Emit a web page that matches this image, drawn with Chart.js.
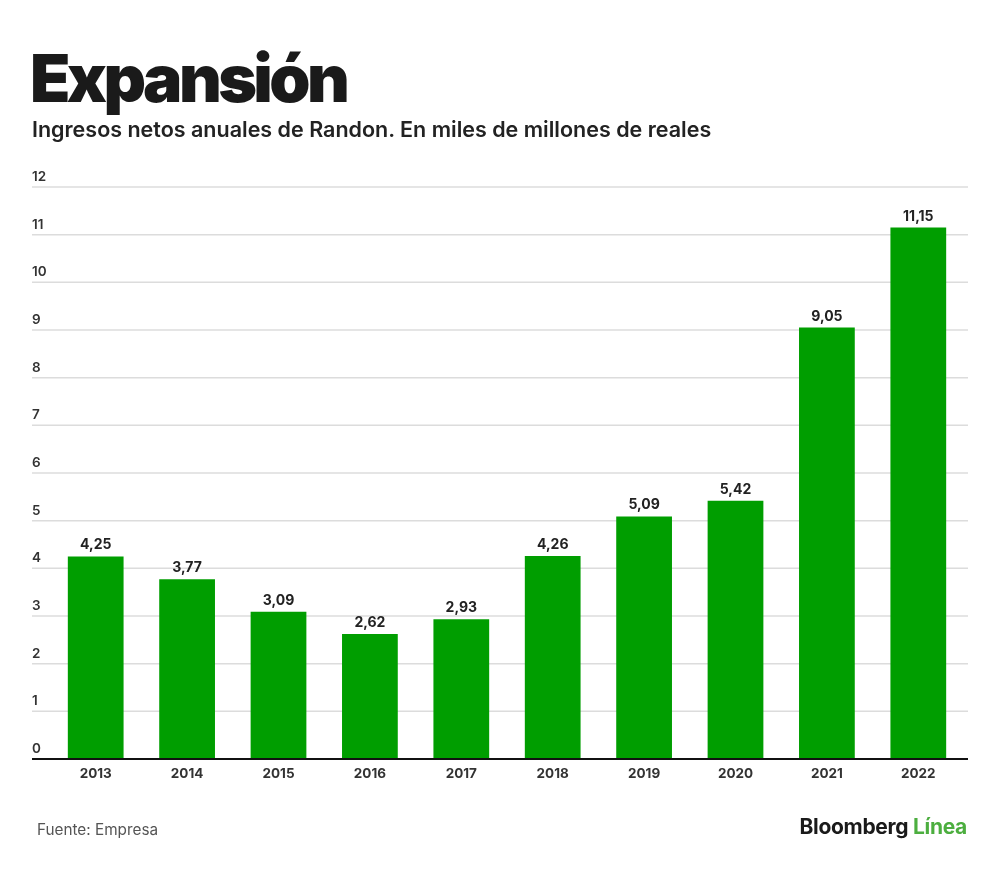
<!DOCTYPE html>
<html>
<head>
<meta charset="utf-8">
<script src="https://cdn.jsdelivr.net/npm/chart.js@4.4.0/dist/chart.umd.min.js"></script>
<style>
  html, body { margin: 0; padding: 0; background: #fff; }
  body { width: 1000px; height: 872px; position: relative; overflow: hidden; font-family: Inter, "Noto Sans", sans-serif; }
  #title { position: absolute; left: 30px; top: 38px; font-size: 66px; font-weight: 900; color: #1a1a1a; letter-spacing: -3.6px; line-height: 80px; margin: 0; }
  #subtitle { position: absolute; left: 32px; top: 115px; font-size: 21.5px; font-weight: 600; color: #222; letter-spacing: 0px; line-height: 28px; margin: 0; }
  #source { position: absolute; left: 37px; top: 820px; font-size: 15.3px; font-weight: 400; color: #555; line-height: 20px; }
  #brand { position: absolute; right: 33px; top: 814px; font-size: 21px; font-weight: 700; color: #1a1a1a; line-height: 26px; letter-spacing: -0.3px; }
  #brand span { color: #4cae3f; }
  #wrap { position: absolute; left: 0; top: 0; width: 1000px; height: 872px; }
</style>
</head>
<body>
<div id="wrap"><canvas id="c" width="1000" height="872"></canvas></div>
<h1 id="title">Expansión</h1>
<p id="subtitle">Ingresos netos anuales de Randon. En miles de millones de reales</p>
<div id="source">Fuente: Empresa</div>
<div id="brand">Bloomberg <span>Línea</span></div>
<script>
const years = ["2013","2014","2015","2016","2017","2018","2019","2020","2021","2022"];
const revenue = [4.25, 3.77, 3.09, 2.62, 2.93, 4.26, 5.09, 5.42, 9.05, 11.15];
const yTicks = [0,1,2,3,4,5,6,7,8,9,10,11,12];

const fmt = v => v.toFixed(2).replace('.', ',');

const gridPlugin = {
  id: 'customGrid',
  beforeDatasetsDraw(chart) {
    const ctx = chart.ctx, y = chart.scales.y;
    ctx.save();
    ctx.strokeStyle = '#dcdcdc';
    ctx.lineWidth = 1.5;
    ctx.font = '600 13.5px Inter, "Noto Sans", sans-serif';
    ctx.fillStyle = '#333';
    ctx.textAlign = 'left';
    ctx.textBaseline = 'middle';
    yTicks.forEach(t => {
      const py = y.getPixelForValue(t);
      if (t !== 0) {
        ctx.beginPath(); ctx.moveTo(32, py); ctx.lineTo(968, py); ctx.stroke();
      }
      ctx.fillText(String(t), 32, py - 10);
    });
    ctx.restore();
  },
  afterDatasetsDraw(chart) {
    const ctx = chart.ctx, y = chart.scales.y;
    ctx.save();
    const py = y.getPixelForValue(0);
    ctx.strokeStyle = '#111';
    ctx.lineWidth = 2;
    ctx.beginPath(); ctx.moveTo(32, py); ctx.lineTo(968, py); ctx.stroke();
    ctx.font = '700 14px Inter, "Noto Sans", sans-serif';
    ctx.fillStyle = '#222';
    ctx.textAlign = 'center';
    ctx.textBaseline = 'alphabetic';
    chart.getDatasetMeta(0).data.forEach((bar, i) => {
      ctx.fillText(fmt(revenue[i]), bar.x, bar.y - 7);
    });
    ctx.restore();
  }
};

new Chart(document.getElementById('c'), {
  type: 'bar',
  data: {
    labels: years,
    datasets: [{
      data: revenue,
      backgroundColor: '#009e00',
      borderWidth: 0,
      barPercentage: 0.61,
      categoryPercentage: 1.0
    }]
  },
  options: {
    responsive: false,
    animation: false,
    devicePixelRatio: 1,
    layout: { padding: { left: 50, right: 36, top: 187, bottom: 73 } },
    plugins: { legend: { display: false }, tooltip: { enabled: false }, title: { display: false } },
    scales: {
      y: {
        display: false,
        min: 0, max: 12,
        ticks: { stepSize: 1 }
      },
      x: {
        grid: { display: false, drawTicks: false },
        border: { display: false },
        ticks: {
          padding: 7,
          color: '#333',
          font: { family: 'Inter, "Noto Sans", sans-serif', size: 13.5, weight: '700' }
        },
        afterFit(scale) { scale.height = 40; }
      }
    }
  },
  plugins: [gridPlugin]
});
</script>
</body>
</html>
